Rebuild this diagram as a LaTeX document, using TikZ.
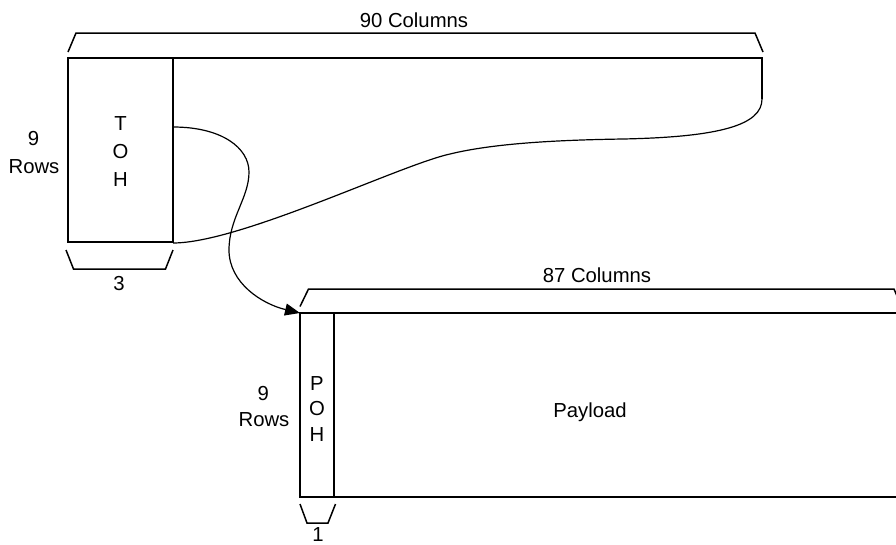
\documentclass[tikz,border=0pt]{standalone}
\usepackage{fontspec}
\setmainfont{Liberation Sans}
\usetikzlibrary{arrows.meta}
\tikzset{
  frame/.style={line width=2pt, line join=miter},
  bracket/.style={line width=1.5pt, line join=miter},
  link/.style={line width=1.2pt},
  lbl/.style={inner sep=0pt, anchor=base, font=\fontsize{20.3}{24}\selectfont},
  box/.style={inner sep=0pt, draw=none}
}
\begin{document}
\begin{tikzpicture}[x=1pt,y=-1pt]
\useasboundingbox (0,0) rectangle (896,544);
\clip (0,0) rectangle (896,544);
% --- top frame (90 columns) ---
\coordinate (tl) at (68,58);
\coordinate (tohbr) at (173,242);
\coordinate (tohtr) at (173,58);
\coordinate (tr) at (762,58);
\coordinate (trb) at (762,99);
\node[box, minimum width=105pt, minimum height=184pt, anchor=north west] (toh) at (tl) {};
\draw[frame] (tl) rectangle (tohbr);
\draw[frame] (tohtr) -- (tr) -- (trb);
\coordinate (cv1) at (623,139);
\coordinate (cv2) at (450,154);
\coordinate (cv3) at (173,243);
\draw[link] (trb) .. controls (762,125) and (720,137) .. (cv1)
  .. controls (560,140) and (495,143) .. (cv2)
  .. controls (400,165) and (240,243) .. (cv3);
% brace 90 columns
\coordinate (b90a) at (68,52);
\coordinate (b90b) at (76,33);
\coordinate (b90c) at (755,33);
\coordinate (b90d) at (763,52);
\draw[bracket] (b90a) -- (b90b) -- (b90c) -- (b90d);
\node[lbl] (c90) at (414,27.3) {90 Columns};
% 9 rows (top)
\node[lbl] (r1a) at (33.5,145) {9};
\node[lbl] (r1b) at (34,173) {Rows};
% TOH letters
\node[lbl] (t1) at (120.5,130.7) {T};
\node[lbl] (t2) at (120.5,158.5) {O};
\node[lbl] (t3) at (120.5,186) {H};
% brace 3
\draw[bracket] (66,250) -- (73.5,269) -- (165.5,269) -- (173,250);
\node[lbl] (c3) at (119,290) {3};
% --- bottom frame (87 columns) ---
\coordinate (bl) at (300,313);
\coordinate (pohbr) at (334,497);
\node[box, minimum width=34pt, minimum height=184pt, anchor=north west] (poh) at (bl) {};
\draw[frame] (bl) rectangle (pohbr);
\draw[frame] (334,313) -- (902,313) -- (902,497) -- (334,497);
% brace 87
\draw[bracket] (300,306.5) -- (308.5,289) -- (894,289) -- (897,296);
\node[lbl] (c87) at (597,282) {87 Columns};
% 9 rows (bottom)
\node[lbl] (r2a) at (263.3,400) {9};
\node[lbl] (r2b) at (264,426.7) {Rows};
% POH letters
\node[lbl] (p1) at (317,390.7) {P};
\node[lbl] (p2) at (317,415.8) {O};
\node[lbl] (p3) at (317,441.7) {H};
\node[lbl] (pay) at (590,417) {Payload};
% brace 1
\draw[bracket] (300,504) -- (307,523) -- (328,523) -- (335.5,504);
\node[lbl] (c1) at (318,541.5) {1};
% --- arrow TOH -> POH ---
\coordinate (as) at (173,127);
\draw[link, -{Triangle[length=15pt,width=12pt]}] (as) .. controls (222,127) and (249,148) .. (249,172)
   .. controls (249,198) and (229,218) .. (229,250)
   .. controls (229,283) and (262,304) .. (poh.north west);
\end{tikzpicture}
\end{document}
